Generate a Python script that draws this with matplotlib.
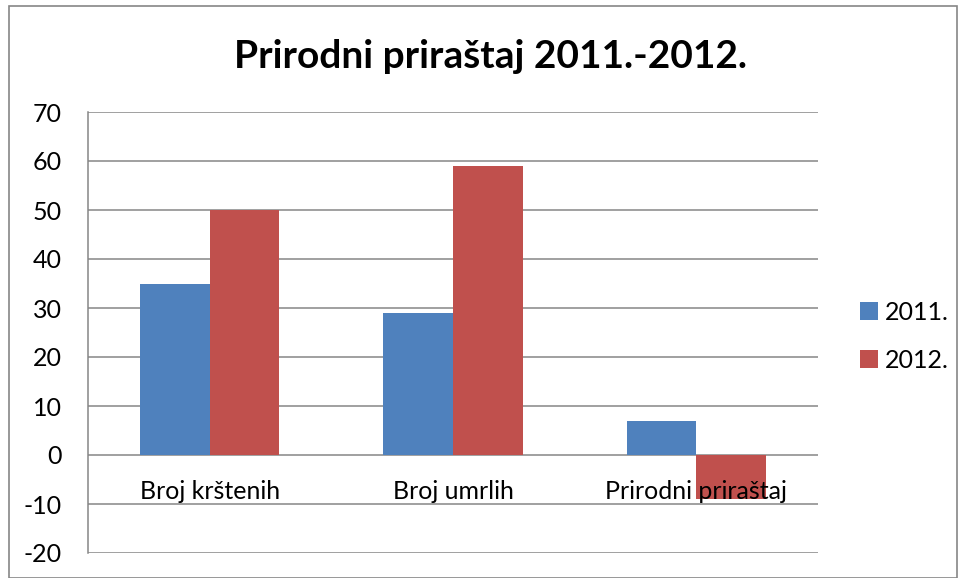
import matplotlib
matplotlib.use("Agg")
import matplotlib.pyplot as plt
import matplotlib.transforms as mtransforms
from matplotlib.patches import Rectangle
import numpy as np

categories = ["Broj krštenih", "Broj umrlih", "Prirodni priraštaj"]
series_names = ["2011.", "2012."]
values_2011 = [35, 29, 7]
values_2012 = [50, 59, -9]
yticks = [-20, -10, 0, 10, 20, 30, 40, 50, 60, 70]
title = "Prirodni priraštaj 2011.-2012."

colors = ["#4F81BD", "#C0504D"]
plt.rcParams['font.family'] = ['Lato', 'DejaVu Sans']

fig = plt.figure(figsize=(9.59, 5.78), dpi=100)
W, H = 959, 578
ax = fig.add_axes([88 / W, 1 - 553 / H, (818 - 88) / W, (553 - 112) / H])

# outer border
fig.patches.append(Rectangle((9 / W, 0), (957 - 9) / W, 1 - 6 / H, transform=fig.transFigure,
                             fill=False, edgecolor="#868686", linewidth=1.2))

x = np.arange(len(categories))
bw = 1 / 3.5
ax.bar(x - bw / 2, values_2011, bw, color=colors[0], label=series_names[0], zorder=3)
ax.bar(x + bw / 2, values_2012, bw, color=colors[1], label=series_names[1], zorder=3)

ax.set_xlim(-0.5, 2.5)
ax.set_ylim(-20, 70)
ax.set_yticks(yticks)
ax.set_yticklabels([str(v) for v in yticks], fontsize=18)
ax.tick_params(axis='y', length=0, pad=19)
ax.set_xticks([])

ax.grid(axis='y', color="#868686", linewidth=1.1, zorder=0)
for s in ["top", "right", "bottom"]:
    ax.spines[s].set_visible(False)
ax.spines["left"].set_color("#868686")
ax.spines["left"].set_linewidth(1.1)

trans = mtransforms.offset_copy(ax.transData, fig=fig, x=0, y=-26, units='points')
for i, c in enumerate(categories):
    ax.text(i, 0, c, transform=trans, ha='center', va='center', fontsize=18, zorder=5)

fig.text(490 / W, 1 - 57 / H, title, ha='center', va='center', fontsize=28, fontweight='bold')

leg = ax.legend(loc='center left', bbox_to_anchor=(860 / W, 1 - 336 / H), bbox_transform=fig.transFigure,
                frameon=False, fontsize=18, handlelength=0.7, handleheight=0.7, handletextpad=0.3,
                labelspacing=1.0, borderpad=0, borderaxespad=0)

fig.savefig("out.png", dpi=100)
